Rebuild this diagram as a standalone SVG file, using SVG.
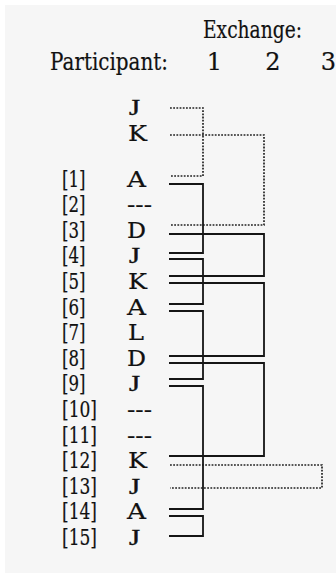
<svg xmlns="http://www.w3.org/2000/svg" width="336" height="575" viewBox="0 0 336 575">
  <style>
    text { font-family: "DejaVu Serif", "Liberation Serif", serif; font-size: 22px; fill: #111; stroke: #111; stroke-width: 0.2; }
    .hd { font-size: 24px; }
    .j { font-family: "Liberation Serif", "DejaVu Serif", serif; font-size: 23px; stroke-width: 0.45; }
    .solid { fill: none; stroke: #151515; stroke-width: 1.8; }
    .dot { fill: none; stroke: #222; stroke-width: 1.7; stroke-dasharray: 1.8 1.4; }
  </style>
  <rect x="0" y="0" width="336" height="575" fill="#ffffff"/>
  <rect x="5" y="5" width="331" height="568" fill="#f6f6f6"/>

  <g id="header">
    <text class="hd" x="203" y="38" textLength="99" lengthAdjust="spacingAndGlyphs">Exchange:</text>
    <text class="hd" x="50" y="69.5" textLength="118" lengthAdjust="spacingAndGlyphs">Participant:</text>
    <text class="hd" x="214.5" y="70" text-anchor="middle">1</text>
    <text class="hd" x="273" y="70" text-anchor="middle">2</text>
    <text class="hd" x="328.5" y="70" text-anchor="middle">3</text>
  </g>

  <g id="pre-J"><text class="j" x="129" y="115" textLength="11" lengthAdjust="spacingAndGlyphs">J</text></g>
  <g id="pre-K"><text x="128" y="141" textLength="19" lengthAdjust="spacingAndGlyphs">K</text></g>

  <g id="row1"><text x="62" y="186.5" textLength="23.5" lengthAdjust="spacingAndGlyphs">[1]</text><text x="127" y="186.5" textLength="19" lengthAdjust="spacingAndGlyphs">A</text></g>
  <g id="row2"><text x="62" y="212.1" textLength="23.5" lengthAdjust="spacingAndGlyphs">[2]</text><text x="127" y="212.1" textLength="25" lengthAdjust="spacingAndGlyphs">---</text></g>
  <g id="row3"><text x="62" y="237.7" textLength="23.5" lengthAdjust="spacingAndGlyphs">[3]</text><text x="127" y="237.7" textLength="19" lengthAdjust="spacingAndGlyphs">D</text></g>
  <g id="row4"><text x="62" y="263.3" textLength="23.5" lengthAdjust="spacingAndGlyphs">[4]</text><text class="j" x="129" y="263.3" textLength="11" lengthAdjust="spacingAndGlyphs">J</text></g>
  <g id="row5"><text x="62" y="288.9" textLength="23.5" lengthAdjust="spacingAndGlyphs">[5]</text><text x="128" y="288.9" textLength="19" lengthAdjust="spacingAndGlyphs">K</text></g>
  <g id="row6"><text x="62" y="314.5" textLength="23.5" lengthAdjust="spacingAndGlyphs">[6]</text><text x="127" y="314.5" textLength="19" lengthAdjust="spacingAndGlyphs">A</text></g>
  <g id="row7"><text x="62" y="340.1" textLength="23.5" lengthAdjust="spacingAndGlyphs">[7]</text><text x="128" y="340.1" textLength="16" lengthAdjust="spacingAndGlyphs">L</text></g>
  <g id="row8"><text x="62" y="365.7" textLength="23.5" lengthAdjust="spacingAndGlyphs">[8]</text><text x="127" y="365.7" textLength="19" lengthAdjust="spacingAndGlyphs">D</text></g>
  <g id="row9"><text x="62" y="391.3" textLength="23.5" lengthAdjust="spacingAndGlyphs">[9]</text><text class="j" x="129" y="391.3" textLength="11" lengthAdjust="spacingAndGlyphs">J</text></g>
  <g id="row10"><text x="62" y="416.9" textLength="35" lengthAdjust="spacingAndGlyphs">[10]</text><text x="127" y="416.9" textLength="25" lengthAdjust="spacingAndGlyphs">---</text></g>
  <g id="row11"><text x="62" y="442.5" textLength="35" lengthAdjust="spacingAndGlyphs">[11]</text><text x="127" y="442.5" textLength="25" lengthAdjust="spacingAndGlyphs">---</text></g>
  <g id="row12"><text x="62" y="468.1" textLength="35" lengthAdjust="spacingAndGlyphs">[12]</text><text x="128" y="468.1" textLength="19" lengthAdjust="spacingAndGlyphs">K</text></g>
  <g id="row13"><text x="62" y="493.7" textLength="35" lengthAdjust="spacingAndGlyphs">[13]</text><text class="j" x="129" y="493.7" textLength="11" lengthAdjust="spacingAndGlyphs">J</text></g>
  <g id="row14"><text x="62" y="519.3" textLength="35" lengthAdjust="spacingAndGlyphs">[14]</text><text x="127" y="519.3" textLength="19" lengthAdjust="spacingAndGlyphs">A</text></g>
  <g id="row15"><text x="62" y="544.9" textLength="35" lengthAdjust="spacingAndGlyphs">[15]</text><text class="j" x="129" y="544.9" textLength="11" lengthAdjust="spacingAndGlyphs">J</text></g>

  <g id="connectors">
    <path class="dot" d="M170,108 H203 V176 H170"/>
    <path class="dot" d="M170,135 H264 V225 H170"/>
    <path class="dot" d="M170,465 H322 V488 H170"/>

    <path class="solid" d="M169,184 H203 V253 H169"/>
    <path class="solid" d="M169,259 H203 V304 H169"/>
    <path class="solid" d="M169,311 H203 V379 H169"/>
    <path class="solid" d="M169,386 H203 V509 H169"/>
    <path class="solid" d="M169,516 H203 V536 H169"/>

    <path class="solid" d="M169,234 H264 V276 H169"/>
    <path class="solid" d="M169,283 H264 V356 H169"/>
    <path class="solid" d="M169,363 H264 V456 H169"/>
  </g>
</svg>
